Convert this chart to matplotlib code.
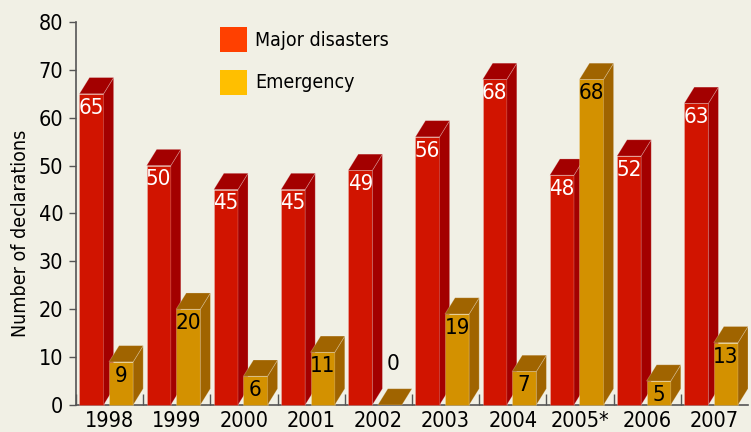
import numpy as np
import matplotlib.pyplot as plt
from matplotlib.patches import Polygon, Rectangle

years = ['1998', '1999', '2000', '2001', '2002', '2003', '2004', '2005*', '2006', '2007']
major = [65, 50, 45, 45, 49, 56, 68, 48, 52, 63]
emergency = [9, 20, 6, 11, 0, 19, 7, 68, 5, 13]
series_names = ['Major disasters', 'Emergency']

plt.rcParams['font.family'] = ['Liberation Sans Narrow', 'DejaVu Sans']
plt.rcParams['font.stretch'] = 'condensed'

BG = '#F1F0E5'
RED_FRONT, RED_DARK = '#D11400', '#A30000'
YEL_FRONT, YEL_DARK = '#D39100', '#A06400'
LEG_RED, LEG_YEL = '#FF4000', '#FFBF00'

DX, DY = 0.15, 3.4      # depth offset in data units
W = 0.36                 # bar width


def bar3d(ax, x0, h, front, dark, txt, txtcol):
    x1 = x0 + W
    ec = (1, 1, 1, 0.25)
    if h > 0:
        ax.add_patch(Polygon([(x0, 0), (x1, 0), (x1, h), (x0, h)], closed=True,
                             fc=front, ec=ec, lw=0.6, clip_on=False, zorder=3))
        ax.add_patch(Polygon([(x1, 0), (x1 + DX, DY), (x1 + DX, h + DY), (x1, h)], closed=True,
                             fc=dark, ec=ec, lw=0.6, clip_on=False, zorder=3))
    ax.add_patch(Polygon([(x0, h), (x1, h), (x1 + DX, h + DY), (x0 + DX, h + DY)], closed=True,
                         fc=dark, ec=ec, lw=0.6, clip_on=False, zorder=3))
    if h > 0:
        ax.text(x0 + W / 2, h - 0.8, txt, ha='center', va='top', color=txtcol,
                fontsize=16, zorder=4)
    else:
        ax.text(x0 + W / 2 + 0.05, h + DY + 3, txt, ha='center', va='bottom', color=txtcol,
                fontsize=16, zorder=4)


fig = plt.figure(figsize=(7.51, 4.32), dpi=100)
fig.patch.set_facecolor(BG)
ax = fig.add_axes([76 / 751, 27 / 432, 672 / 751, 383 / 432])
ax.set_facecolor(BG)

for i, (m, e) in enumerate(zip(major, emergency)):
    bar3d(ax, i - 0.45, m, RED_FRONT, RED_DARK, str(m), 'white')
    bar3d(ax, i - 0.01, e, YEL_FRONT, YEL_DARK, str(e), 'black')

ax.set_xlim(-0.5, len(years) - 0.5)
ax.set_ylim(0, 80)

ax.spines['top'].set_visible(False)
ax.spines['right'].set_visible(False)
for s in ('left', 'bottom'):
    ax.spines[s].set_color('#555555')
    ax.spines[s].set_linewidth(1.2)

ax.set_yticks(np.arange(0, 81, 10))
ax.tick_params(axis='y', direction='out', length=5, width=1, color='#555555',
               labelsize=15.5, pad=4)
ax.set_xticks(np.arange(len(years)))
ax.set_xticklabels(years, fontsize=15.5)
ax.set_xticks(np.arange(len(years)) - 0.5, minor=True)
ax.tick_params(axis='x', which='major', length=0, pad=4)
ax.tick_params(axis='x', which='minor', direction='in', length=8, width=1, color='#555555')
fig.text(21 / 751, 1 - 233 / 432, 'Number of declarations', fontsize=14,
         rotation=90, ha='center', va='center')

# legend
for k, (name, col) in enumerate(zip(series_names, [LEG_RED, LEG_YEL])):
    ya = 1 - (27 + 43 * k) / 432
    fig.patches.append(Rectangle((220 / 751, ya - 25 / 432), 27 / 751, 25 / 432,
                                 transform=fig.transFigure, fc=col, ec='none'))
    fig.text(255 / 751, ya - 13 / 432, name, fontsize=14, va='center', ha='left')

fig.savefig('out.png', dpi=100, facecolor=BG)
